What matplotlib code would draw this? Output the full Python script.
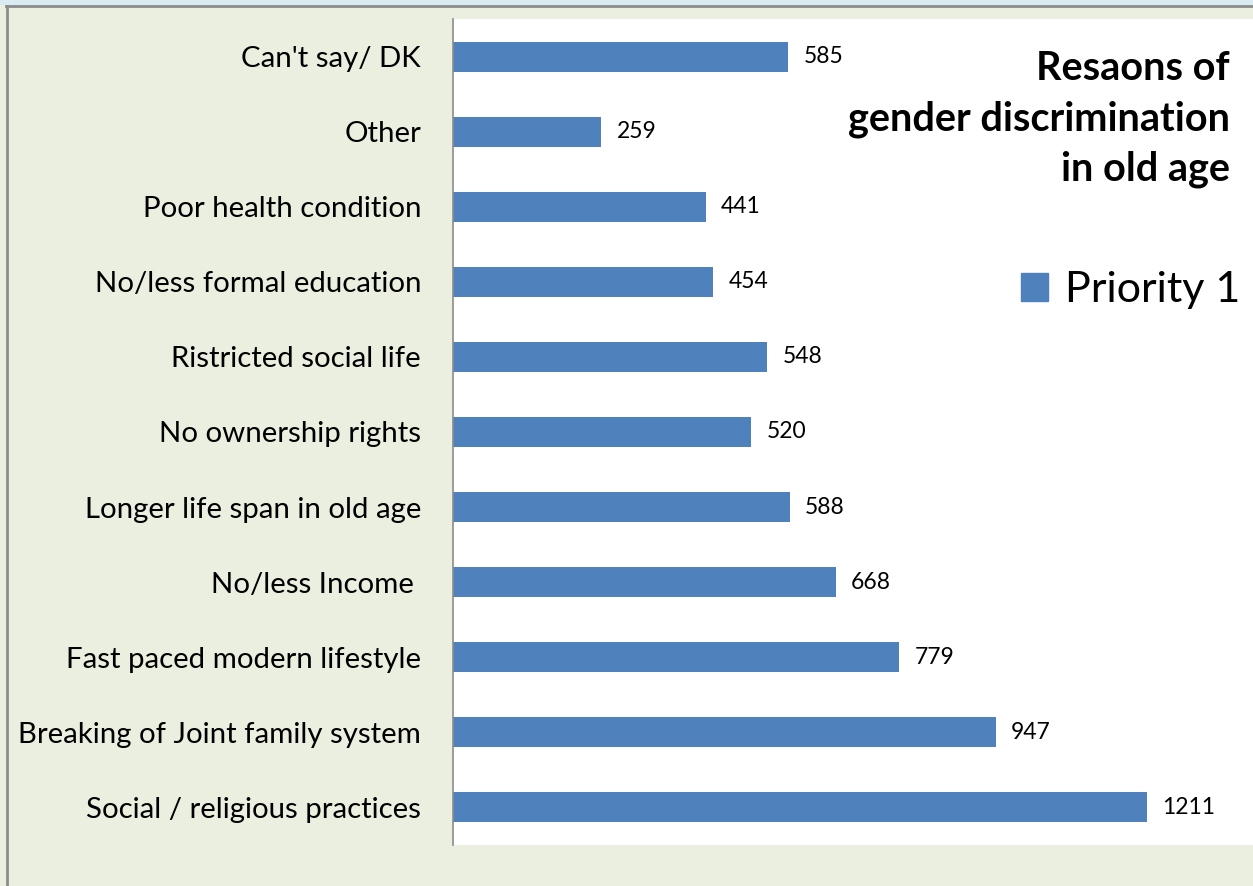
import matplotlib.pyplot as plt
from matplotlib.patches import Rectangle, Patch

# data (bottom -> top)
categories = [
    "Social / religious practices",
    "Breaking of Joint family system",
    "Fast paced modern lifestyle",
    "No/less Income ",
    "Longer life span in old age",
    "No ownership rights",
    "Ristricted social life",
    "No/less formal education",
    "Poor health condition",
    "Other",
    "Can't say/ DK",
]
values = [1211, 947, 779, 668, 588, 520, 548, 454, 441, 259, 585]

BAR_COLOR = "#4F81BD"
BG = "#EBEFDF"
W, H = 1253, 886

plt.rcParams["font.family"] = ["Lato", "DejaVu Sans"]

fig = plt.figure(figsize=(W / 100, H / 100), dpi=100)
fig.patch.set_facecolor(BG)

# outer frame: light blue strip on top, gray border
fig.add_artist(Rectangle((0, 1 - 5 / H), 1, 5 / H, transform=fig.transFigure,
                         facecolor="#DAEBF2", edgecolor="none"))
fig.add_artist(plt.Line2D([6 / W, 1], [1 - 6 / H, 1 - 6 / H], transform=fig.transFigure,
                          color="#8C8C8C", lw=2))
fig.add_artist(plt.Line2D([7 / W, 7 / W], [0, 1 - 6 / H], transform=fig.transFigure,
                          color="#8C8C8C", lw=2))

ax = fig.add_axes([453 / W, 41 / H, 800 / W, 826 / H])
ax.set_facecolor("white")
ypos = range(len(categories))
ax.barh(ypos, values, height=0.4, color=BAR_COLOR)
ax.set_xlim(0, 800 / 0.5731)
ax.set_ylim(-0.5, len(categories) - 0.5)

ax.set_yticks(list(ypos))
ax.set_yticklabels(categories, fontsize=21.2)
ax.tick_params(axis="y", length=0, pad=23)
ax.set_xticks([])
for s in ["top", "right", "bottom"]:
    ax.spines[s].set_visible(False)
ax.spines["left"].set_color("#8C8C8C")
ax.spines["left"].set_linewidth(1.2)

for y, v in zip(ypos, values):
    ax.annotate(str(v), xy=(v, y), xytext=(11, 0), textcoords="offset points",
                ha="left", va="center", fontsize=16.5)

fig.text(1230 / W, 1 - 119 / H, "Resaons of\ngender discrimination\nin old age",
         ha="right", va="center", fontsize=28.5, fontweight="bold",
         linespacing=1.42)

fig.legend(handles=[Patch(color=BAR_COLOR, label="Priority 1")],
           loc="center right", bbox_to_anchor=(1240 / W, 1 - 290 / H),
           frameon=False, fontsize=31, handlelength=0.62, handleheight=0.62,
           handletextpad=0.4, borderaxespad=0, borderpad=0)

fig.savefig("out.png", dpi=100, facecolor=BG)
